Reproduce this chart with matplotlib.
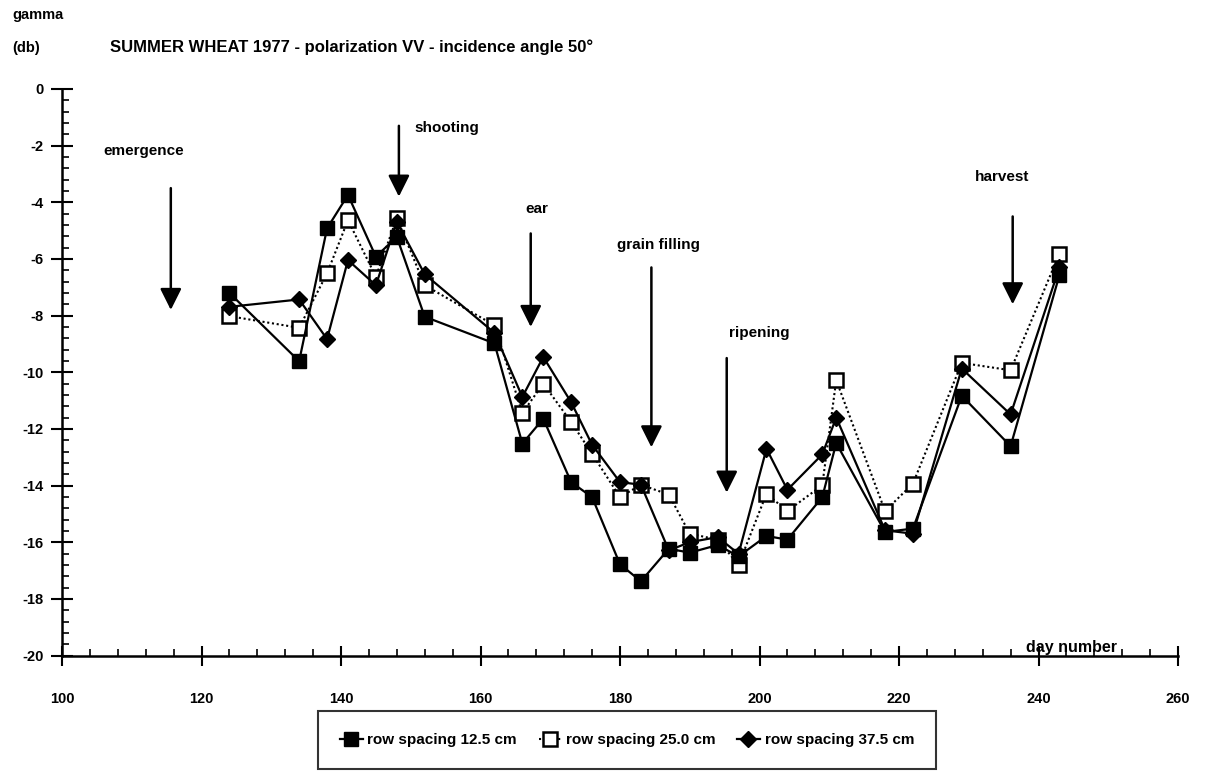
import matplotlib
matplotlib.use("Agg")
import matplotlib.pyplot as plt
from matplotlib.ticker import MultipleLocator

plt.rcParams["font.family"] = ["Liberation Sans", "DejaVu Sans"]
plt.rcParams["axes.unicode_minus"] = False

# measurement days (day number) shared by all three plots
days = [124, 134, 138, 141, 145, 148, 152, 162, 166, 169, 173, 176, 180, 183,
        187, 190, 194, 197, 201, 204, 209, 211, 218, 222, 229, 236, 243]

gamma_125 = [-7.20, -9.61, -4.92, -3.74, -5.92, -5.22, -8.04, -8.98, -12.52,
             -11.64, -13.88, -14.41, -16.78, -17.38, -16.23, -16.37, -16.10,
             -16.50, -15.78, -15.91, -14.41, -12.50, -15.64, -15.52, -10.83,
             -12.61, -6.57]
gamma_250 = [-8.02, -8.43, -6.51, -4.63, -6.63, -4.55, -6.93, -8.34, -11.44,
             -10.40, -11.76, -12.88, -14.41, -13.97, -14.32, -15.70, -15.91,
             -16.80, -14.29, -14.90, -13.99, -10.28, -14.90, -13.93, -9.67,
             -9.93, -5.81]
gamma_375 = [-7.69, -7.43, -8.83, -6.04, -6.93, -4.69, -6.54, -8.61, -10.87,
             -9.46, -11.06, -12.56, -13.88, -13.97, -16.29, -16.00, -15.82,
             -16.41, -12.70, -14.15, -12.90, -11.60, -15.58, -15.70, -9.87,
             -11.49, -6.30]

series_labels = ["row spacing 12.5 cm", "row spacing 25.0 cm", "row spacing 37.5 cm"]

# growth stages: label, day, arrow start, arrow tip, label position
stage_names = ["emergence", "shooting", "ear", "grain filling", "ripening", "harvest"]
stage_days = [115.6, 148.3, 167.2, 184.5, 195.3, 236.3]
stage_top = [-3.5, -1.3, -5.1, -6.3, -9.5, -4.5]
stage_tip = [-7.8, -3.8, -8.4, -12.65, -14.25, -7.6]
stage_text_x = [111.7, 155.1, 168.1, 185.5, 199.9, 234.8]
stage_text_y = [-2.2, -1.37, -4.25, -5.5, -8.6, -3.1]

fig = plt.figure(figsize=(12.08, 7.71), dpi=100)
ax = fig.add_axes([62 / 1208, 1 - 655.5 / 771, 1116 / 1208, 566.5 / 771])

ax.plot(days, gamma_250, color="black", lw=1.5, ls=(0, (1, 1.3)),
        marker="s", ms=10.5, mfc="white", mec="black", mew=1.8,
        label=series_labels[1], zorder=3)
ax.plot(days, gamma_375, color="black", lw=1.6, marker="D", ms=8.5,
        mfc="black", mec="black", label=series_labels[2], zorder=4)
ax.plot(days, gamma_125, color="black", lw=1.6, marker="s", ms=10.5,
        mfc="black", mec="black", label=series_labels[0], zorder=5)

for name, d, top, tip, tx, ty in zip(stage_names, stage_days, stage_top,
                                     stage_tip, stage_text_x, stage_text_y):
    ax.annotate("", xy=(d, tip), xytext=(d, top),
                arrowprops=dict(arrowstyle="-|>,head_length=1.0,head_width=0.5",
                                color="black", lw=1.8, shrinkA=0, shrinkB=0,
                                mutation_scale=13))
    ax.text(tx, ty, name, ha="center", va="center", fontsize=11,
            fontweight="bold")

ax.set_xlim(100, 260)
ax.set_ylim(-20, 0)
ax.spines["top"].set_visible(False)
ax.spines["right"].set_visible(False)
ax.spines["left"].set_linewidth(1.8)
ax.spines["bottom"].set_linewidth(1.8)

ax.xaxis.set_major_locator(MultipleLocator(20))
ax.xaxis.set_minor_locator(MultipleLocator(4))
ax.yaxis.set_major_locator(MultipleLocator(2))
ax.yaxis.set_minor_locator(MultipleLocator(0.4))
ax.tick_params(axis="x", which="major", direction="inout", length=15,
               width=1.5, pad=19, labelsize=10.5)
ax.tick_params(axis="y", which="major", direction="inout", length=16,
               width=1.5, pad=5, labelsize=10.5)
ax.tick_params(which="minor", direction="in", length=5, width=1.2)
for lbl in ax.get_xticklabels() + ax.get_yticklabels():
    lbl.set_fontweight("bold")

ax.text(244.8, -19.7, "day number", ha="center", va="center", fontsize=11.5,
        fontweight="bold")

fig.text(12 / 1208, 1 - 15 / 771, "gamma", ha="left", va="center",
         fontsize=10.5, fontweight="bold")
fig.text(12 / 1208, 1 - 48 / 771, "(db)", ha="left", va="center",
         fontsize=10.5, fontweight="bold")
fig.text(352 / 1208, 1 - 47 / 771,
         "SUMMER WHEAT 1977 - polarization VV - incidence angle 50°",
         ha="center", va="center", fontsize=12, fontweight="bold")

handles, labels = ax.get_legend_handles_labels()
order = [2, 0, 1]
leg = fig.legend([handles[i] for i in order], [labels[i] for i in order],
                 loc="center", bbox_to_anchor=(627 / 1208, 1 - 740 / 771),
                 ncol=3, frameon=True, fancybox=False, edgecolor="black",
                 handlelength=1.5, handletextpad=0.3, columnspacing=1.4,
                 borderpad=1.45, prop={"size": 11, "weight": "bold"})
leg.get_frame().set_linewidth(1.5)

fig.savefig("out.png", dpi=100)
